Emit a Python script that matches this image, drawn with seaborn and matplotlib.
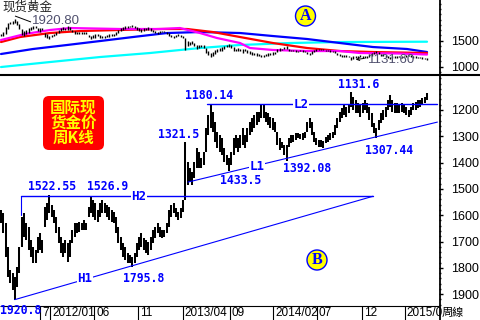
import numpy as np
import pandas as pd
import matplotlib
matplotlib.use("Agg")
import matplotlib.pyplot as plt
import seaborn as sns
from matplotlib.patches import FancyBboxPatch, Circle
from matplotlib.lines import Line2D
from matplotlib.ticker import MultipleLocator

# ---------------- data (weekly bars, spot gold) ----------------
bar_low = [1580, 1591, 1629, 1721, 1808, 1819, 1835, 1797, 1721, 1607,
           1591, 1629, 1645, 1694, 1721, 1732, 1683, 1667, 1694, 1569,
           1553, 1522.55, 1561, 1580, 1607, 1645, 1683, 1705, 1694, 1705,
           1694, 1656, 1629, 1629, 1626, 1629, 1618, 1629, 1569, 1526.9,
           1542, 1553, 1580, 1553, 1542, 1553, 1561, 1569, 1580, 1588,
           1607, 1645, 1683, 1705, 1721, 1743, 1751, 1759, 1743, 1705,
           1683, 1667, 1686, 1694, 1702, 1683, 1656, 1645, 1629, 1645,
           1656, 1656, 1629, 1580, 1561, 1553, 1572, 1588, 1572, 1542,
           1321.5, 1398, 1420, 1436, 1398, 1344, 1360, 1382, 1360, 1268,
           1219, 1180.14, 1208, 1246, 1284, 1295, 1306, 1344, 1371, 1382,
           1360, 1306, 1295, 1306, 1295, 1268, 1295, 1268, 1246, 1230,
           1219, 1208, 1208, 1181, 1181, 1208, 1211, 1227, 1230, 1246,
           1284, 1306, 1322, 1333, 1333, 1306, 1295, 1295, 1287, 1287,
           1290, 1287, 1284, 1246, 1230, 1246, 1284, 1306, 1314, 1314,
           1318, 1303, 1295, 1287, 1284, 1257, 1230, 1208, 1192, 1181,
           1189, 1181, 1131.6, 1151, 1162, 1173, 1181, 1173, 1162, 1173,
           1189, 1211, 1249, 1268, 1238, 1211, 1200, 1189, 1162, 1143,
           1162, 1173, 1173, 1181, 1173, 1181, 1189, 1200, 1189, 1173,
           1170, 1162, 1162, 1154, 1151, 1135]
bar_high = [1629, 1667, 1759, 1835, 1857, 1884, 1920.8, 1873, 1819, 1721,
            1683, 1694, 1732, 1759, 1781, 1781, 1743, 1732, 1743, 1645,
            1618, 1591, 1607, 1629, 1667, 1705, 1743, 1759, 1743, 1778,
            1759, 1705, 1683, 1667, 1664, 1656, 1656, 1656, 1607, 1591,
            1607, 1618, 1626, 1607, 1591, 1591, 1607, 1618, 1626, 1629,
            1667, 1705, 1732, 1759, 1770, 1781, 1781, 1795.8, 1781, 1759,
            1732, 1721, 1732, 1743, 1751, 1732, 1705, 1686, 1667, 1683,
            1686, 1683, 1667, 1645, 1607, 1591, 1607, 1618, 1610, 1588,
            1542, 1485, 1474, 1485, 1458, 1420, 1420, 1420, 1409, 1360,
            1295, 1268, 1284, 1322, 1344, 1360, 1371, 1398, 1409, 1433.5,
            1409, 1371, 1344, 1360, 1344, 1333, 1344, 1322, 1295, 1284,
            1268, 1257, 1246, 1230, 1230, 1246, 1257, 1268, 1276, 1284,
            1333, 1352, 1344, 1371, 1392.08, 1341, 1325, 1322, 1314, 1306,
            1312, 1314, 1306, 1284, 1268, 1295, 1322, 1333, 1341, 1341,
            1344, 1325, 1322, 1314, 1306, 1295, 1268, 1246, 1230, 1219,
            1227, 1211, 1189, 1200, 1211, 1211, 1227, 1211, 1200, 1211,
            1238, 1265, 1287, 1307.44, 1276, 1249, 1238, 1227, 1200, 1189,
            1208, 1211, 1211, 1211, 1208, 1211, 1219, 1227, 1219, 1200,
            1200, 1192, 1189, 1181, 1173, 1162]

# moving averages in the upper panel (week position, value)
ma_mag_w = [0, 10.4, 21.3, 30, 51.7, 69, 77.7, 86.4, 93.8, 103.8, 108.1, 118.1, 132.9, 147.2, 155.9, 173.3, 185]
ma_mag_v = [1510, 1625, 1702, 1740, 1721, 1721, 1740, 1644, 1548, 1452, 1356, 1318, 1298, 1298, 1260, 1250, 1231]
ma_red_w = [0, 8.25, 21.3, 34.3, 51.7, 69, 80.8, 92, 103.8, 118.1, 132.9, 147.2, 161.5, 185]
ma_red_v = [1471, 1567, 1644, 1682, 1702, 1721, 1721, 1663, 1567, 1452, 1356, 1298, 1279, 1260]
ma_blue_w = [0, 13.9, 28.7, 43, 57.3, 72.1, 86.4, 103.8, 118.1, 132.9, 147.2, 161.5, 176.3, 185]
ma_blue_v = [1241, 1337, 1414, 1490, 1567, 1644, 1663, 1644, 1586, 1529, 1452, 1375, 1337, 1279]
ma_cyan_w = [0, 21.3, 43, 64.7, 86.4, 103.8, 125.5, 147.2, 185]
ma_cyan_v = [991, 1087, 1183, 1260, 1356, 1414, 1452, 1471, 1477]

# trend lines (week position, price)
h2_w = [8.7, 161.5]; h2_v = [1528, 1528]
h1_w = [6, 161.5];   h1_v = [1920.8, 1528]
l2_w = [89.4, 189.5]; l2_v = [1178, 1178]
l1_w = [81.2, 189.5]; l1_v = [1474, 1246]

# x tick positions / labels
xtick_w = [16.9, 21.3, 40.4, 59.5, 79.0, 99.4, 118.1, 137.2, 156.8, 175.4]
xtick_lab = ["7", "2012/01", "06", "11", "2013/04", "09", "2014/02", "07", "12", "2015/0"]
ytick_main = [1200, 1300, 1400, 1500, 1600, 1700, 1800, 1900]
ytick_top = [1000, 1500]

# ---------------- figure ----------------
sns.set_theme(style="white")
plt.rcParams["font.family"] = ["Liberation Sans", "Noto Sans CJK SC", "DejaVu Sans"]

W, H = 480, 320
fig = plt.figure(figsize=(4.8, 3.2), dpi=100)
fig.patch.set_facecolor("white")

def fx(px):
    return px / W

def fy(py):
    return 1 - py / H

ax_top = fig.add_axes([0, fy(74), fx(439), 74 / H])
ax = fig.add_axes([0, fy(306), fx(439), (306 - 75) / H])
XL = (-0.43, 190.2)
weeks = np.arange(len(bar_low))

for a in (ax_top, ax):
    a.set_facecolor("white")
    for s in a.spines.values():
        s.set_visible(False)
    a.set_xlim(XL)

# ---- upper panel ----
ax_top.set_ylim(857, 2278)
for w, v, c in [(ma_cyan_w, ma_cyan_v, "#00ffff"), (ma_blue_w, ma_blue_v, "#0000ff"),
                (ma_red_w, ma_red_v, "#ff0000"), (ma_mag_w, ma_mag_v, "#ff00ff")]:
    sns.lineplot(x=w, y=v, color=c, lw=1.6, ax=ax_top, legend=False)
ax_top.vlines(weeks, bar_low, bar_high, color="black", lw=1.0)
ax_top.yaxis.tick_right()
ax_top.set_yticks(ytick_top)
ax_top.yaxis.set_minor_locator(MultipleLocator(100))
ax_top.tick_params(axis="y", which="major", length=3, width=1, pad=6, labelsize=9,
                   right=True, left=False, colors="black")
ax_top.tick_params(axis="y", which="minor", length=1.5, width=1, right=True, left=False)
ax_top.set_xticks([])
ax_top.set_xlabel(""); ax_top.set_ylabel("")

# ---- main panel (inverted) ----
ax.set_ylim(1945, 1067)
ax.vlines(weeks, bar_low, bar_high, color="black", lw=1.45)
blue = "#0000ff"
ax.plot(h2_w, h2_v, color=blue, lw=1.0)
ax.plot([h2_w[0], h2_w[0]], [h2_v[0], 1600], color=blue, lw=0.8)
ax.plot(h1_w, h1_v, color=blue, lw=0.8)
ax.plot(l2_w, l2_v, color=blue, lw=1.0)
ax.plot(l1_w, l1_v, color=blue, lw=0.8)
ax.yaxis.tick_right()
ax.set_yticks(ytick_main)
ax.yaxis.set_minor_locator(MultipleLocator(20))
ax.tick_params(axis="y", which="major", length=3, width=1, pad=6, labelsize=9,
               right=True, left=False, colors="black")
ax.tick_params(axis="y", which="minor", length=1.5, width=1, right=True, left=False)
ax.set_xticks(xtick_w)
ax.set_xticklabels([])
ax.tick_params(axis="x", length=10, width=0.8, direction="out", bottom=True, colors="black")
for w, lab in zip(xtick_w, xtick_lab):
    ax.annotate(lab, xy=(w, 0), xycoords=("data", "axes fraction"), xytext=(2, -7.5),
                textcoords="offset pixels", ha="left", va="center", fontsize=8.5,
                color="black", annotation_clip=False)

# ---- frame lines ----
def fline(x0, y0, x1, y1, lw, color="black"):
    fig.add_artist(Line2D([fx(x0), fx(x1)], [fy(y0), fy(y1)], transform=fig.transFigure,
                          color=color, lw=lw, solid_capstyle="butt"))

fline(0, 74.5, 480, 74.5, 1.5)
fline(439.5, 0, 439.5, 320, 1.3)
fline(0, 306, 439, 306, 0.8)

# ---- texts ----
mono = dict(family="DejaVu Sans Mono", weight="bold", color=blue, fontsize=8.3, va="center", ha="left")
for s, px, py in [("1180.14", 185, 95.5), ("1321.5", 158, 134), ("1522.55", 28, 187),
                  ("1526.9", 87, 187), ("1433.5", 220, 180), ("1392.08", 283, 169),
                  ("1131.6", 338, 84), ("1307.44", 365, 150.5), ("1795.8", 123, 278),
                  ("1920.8", 0, 310)]:
    fig.text(fx(px), fy(py), s, **mono)

for s, px, py in [("H2", 139, 197), ("L2", 301, 104), ("L1", 257, 166), ("H1", 85, 279)]:
    fig.text(fx(px), fy(py), s, family="DejaVu Sans Mono", weight="bold", color=blue,
             fontsize=9, ha="center", va="center",
             bbox=dict(facecolor="white", edgecolor="none", pad=0.6))

# red title box
box = FancyBboxPatch((0.43, (320 - 150) / 100), 0.61, 0.54,
                     boxstyle="round,pad=0,rounding_size=0.06",
                     transform=fig.dpi_scale_trans, facecolor="#ff0000", edgecolor="none")
fig.add_artist(box)
for s, py in [("国际现", 107.5), ("货金价", 122.5), ("周K线", 137.5)]:
    fig.text(fx(73.5), fy(py), s, family=["Noto Sans CJK SC", "DejaVu Sans"], weight="bold",
             color="#ffff00", fontsize=11.2, ha="center", va="center")

# circles A / B
for lab, cx, cy in [("A", 305.5, 16), ("B", 317, 260)]:
    fig.add_artist(Circle((cx / 100, (320 - cy) / 100), 0.1, transform=fig.dpi_scale_trans,
                          facecolor="#ffff00", edgecolor=blue, lw=1.0))
    fig.text(fx(cx), fy(cy + 0.5), lab, family="Liberation Serif", weight="bold",
             color=blue, fontsize=11.5, ha="center", va="center")

# upper panel texts
fig.text(fx(2), fy(7.5), "现货黄金", family=["Noto Sans CJK SC", "DejaVu Sans"],
         fontsize=9, color="#222222", ha="left", va="center")
fig.text(fx(32), fy(21.5), "1920.80", fontsize=9.5, color="#50506e", ha="left", va="center")
fline(15, 16, 31, 22, 0.7)
fig.text(fx(368), fy(60), "1131.60", fontsize=9.5, color="#50506e", ha="left", va="center")
fig.add_artist(matplotlib.patches.FancyArrowPatch((fx(367), fy(58)), (fx(353), fy(60)),
               transform=fig.transFigure, arrowstyle="->", mutation_scale=5,
               color="black", lw=0.7))

fig.text(fx(442), fy(313), "周線", family=["Noto Sans CJK TC", "DejaVu Sans"],
         fontsize=8, color="black", ha="left", va="center")

fig.savefig("out.png", dpi=100, facecolor="white")
